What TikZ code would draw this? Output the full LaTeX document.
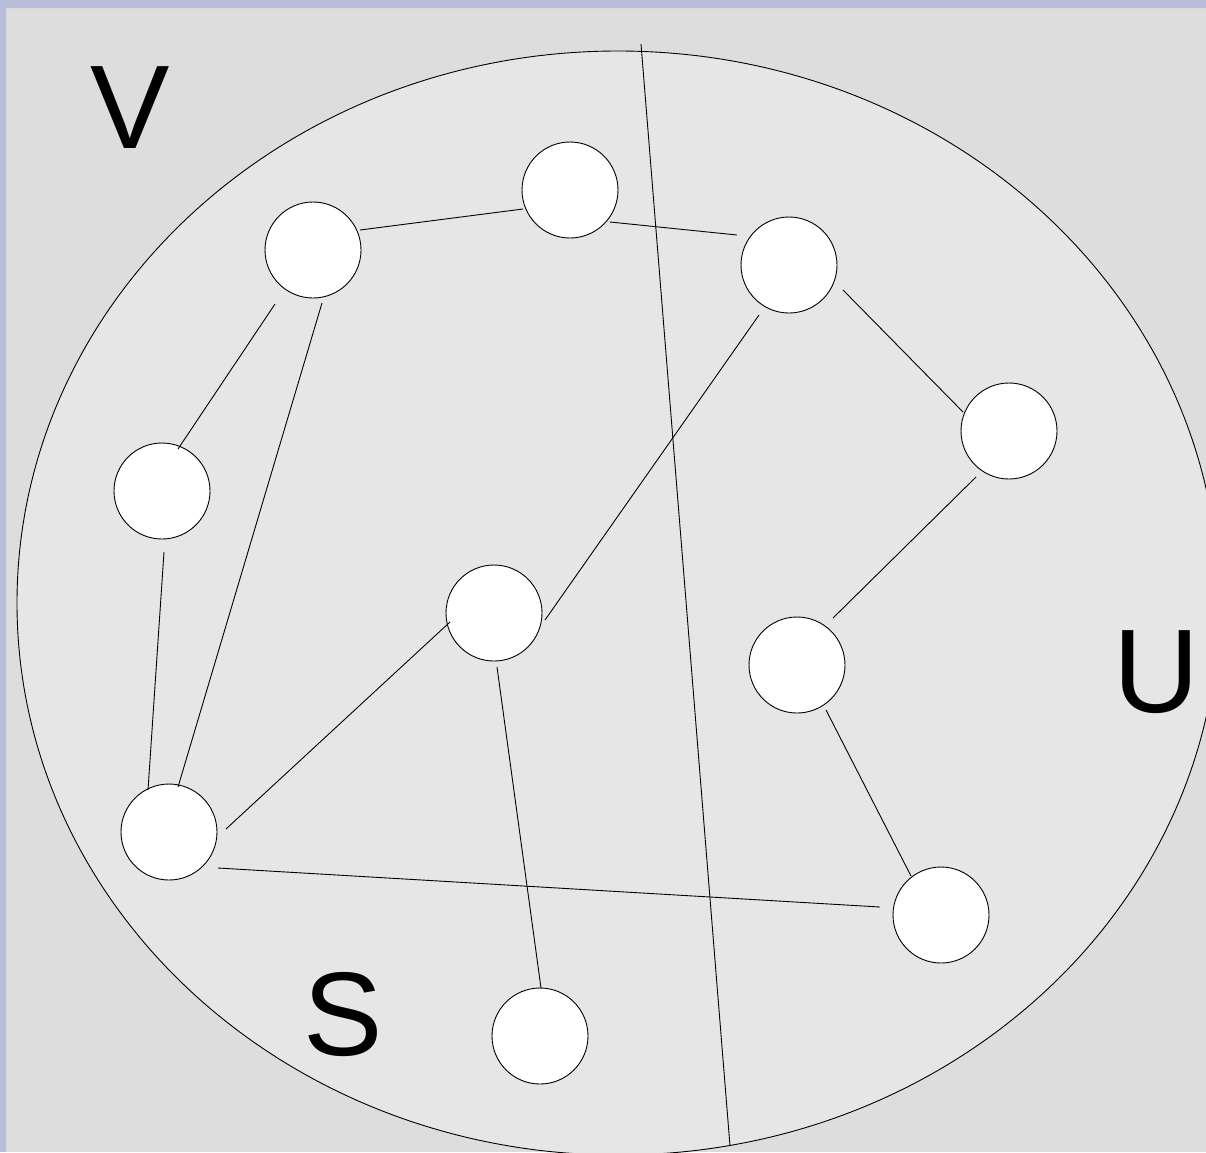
\documentclass[tikz,border=0pt]{standalone}
\usepackage{fontspec}
\setmainfont{Liberation Sans}
\definecolor{frameblue}{HTML}{B8BDD9}
\definecolor{bggray}{HTML}{DDDDDD}
\definecolor{ellgray}{HTML}{E6E6E6}
\begin{document}
\begin{tikzpicture}[x=1pt,y=-1pt,
  vertex/.style={circle,draw=black,fill=white,line width=0.9pt,minimum size=96pt,inner sep=0pt},
  edge/.style={draw=black,line width=0.9pt},
  biglabel/.style={inner sep=0pt,font=\fontsize{119}{119}\selectfont}]
\useasboundingbox (0,0) rectangle (1206,1152);
\fill[frameblue] (0,0) rectangle (1206,1152);
\fill[bggray] (6,8) rectangle (1206,1152);
\draw[black!15,line width=0.8pt] (6.4,1152) -- (6.4,8.4) -- (1206,8.4);
\begin{scope}
\clip (6,8) rectangle (1206,1152);
\filldraw[fill=ellgray,draw=black,line width=0.9pt] (618,603) ellipse [x radius=601,y radius=552];
\coordinate (cutT) at (641,44);
\coordinate (cutB) at (730,1146);
\draw[edge] (cutT) -- (cutB);
\end{scope}
\node[vertex] (A) at (313,250) {};
\node[vertex] (B) at (570,190) {};
\node[vertex] (C) at (789,265) {};
\node[vertex] (D) at (1009,431) {};
\node[vertex] (E) at (162,491) {};
\node[vertex] (F) at (494,613) {};
\node[vertex] (G) at (797,665) {};
\node[vertex] (H) at (169,832) {};
\node[vertex] (I) at (941,915) {};
\node[vertex] (J) at (540,1036) {};
\draw[edge] ([shift={(47,-20)}]A.center) -- ([shift={(-47,19)}]B.center);
\draw[edge] ([shift={(40,32)}]B.center) -- ([shift={(-52,-30)}]C.center);
\draw[edge] ([shift={(54,25)}]C.center) -- ([shift={(-46,-19)}]D.center);
\draw[edge] ([shift={(-33,46)}]D.center) -- ([shift={(36,-47)}]G.center);
\draw[edge] ([shift={(29,45)}]G.center) -- ([shift={(-30,-39)}]I.center);
\draw[edge] ([shift={(-38,54)}]A.center) -- ([shift={(16,-42)}]E.center);
\draw[edge] ([shift={(9,53)}]A.center) -- ([shift={(9,-45)}]H.center);
\draw[edge] ([shift={(2,61)}]E.center) -- ([shift={(-21,-42)}]H.center);
\draw[edge] ([shift={(57,-3)}]H.center) -- ([shift={(-44,9)}]F.center);
\draw[edge] ([shift={(51,7)}]F.center) -- ([shift={(-30,50)}]C.center);
\draw[edge] ([shift={(3,54)}]F.center) -- ([shift={(1,-48)}]J.center);
\draw[edge] ([shift={(49,36)}]H.center) -- ([shift={(-61,-8)}]I.center);
\node[biglabel] (lV) at (130,108) {V};
\node[biglabel] (lU) at (1156,672) {U};
\node[biglabel] (lS) at (343,1015) {S};
\end{tikzpicture}
\end{document}
